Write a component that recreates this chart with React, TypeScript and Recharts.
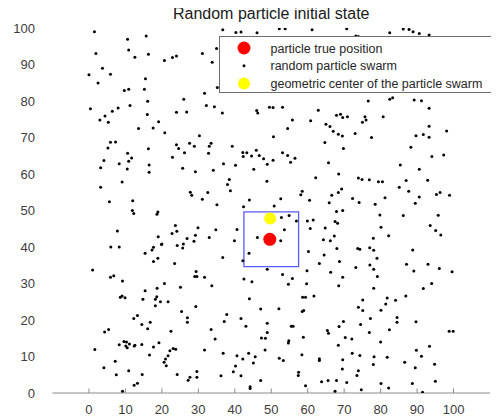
import React from 'react';
import { ScatterChart, Scatter, XAxis, YAxis, ReferenceArea } from 'recharts';

const chartTitle = 'Random particle initial state';
const xTicks = [0, 10, 20, 30, 40, 50, 60, 70, 80, 90, 100];
const yTicks = [0, 10, 20, 30, 40, 50, 60, 70, 80, 90, 100];
const xDomain = [-10, 110];
const yDomain = [0, 100];

const truePosition: [number, number][] = [[49.6, 42.1]];
const swarmCenter: [number, number][] = [[49.7, 47.8]];
const boxX = [42.5, 57.5];
const boxY = [34.6, 49.6];

const legendLabels = [
  'particle true position',
  'random particle swarm',
  'geometric center of the particle swarm',
];

const swarmUpperLeft: [number, number][] = [
  [1.5, 99], [10.6, 96.9], [15.7, 97.8], [1.9, 93], [10.9, 94], [12.6, 92], [16.3, 92.8], [20.7, 91.1],
  [3.7, 89], [0.0, 87.2], [5.9, 87.3], [15.5, 86.1], [2.5, 84.9], [9.7, 82.9], [10.9, 83.2], [15.2, 83.2],
  [16.1, 79.9], [0.4, 77.9], [11.25, 78.8], [8.0, 78.1], [6.4, 77.2], [4.4, 75.9], [3.0, 74.8], [5.3, 74.2],
  [16.0, 76.3], [19.1, 74.3], [13.6, 72.5], [17.6, 72.6], [20.8, 71.3], [5.9, 68.7], [7.3, 68.8],
  [36.7, 99.5], [40.3, 98.8], [41.7, 98.9], [46.1, 98.7], [22.9, 91.9], [24.0, 92.3], [31.1, 93.0],
  [33.8, 90.6], [35.0, 94.4], [35.2, 83.7], [31.7, 82.1], [26.0, 80.5], [24.0, 76.9], [26.8, 77.0],
  [32.2, 78.8], [34.4, 78.4], [36.6, 76.7], [46.0, 77.4], [46.3, 76.7], [49.5, 78.3], [30.3, 70.5], [50.6, 70.2],
];

const swarmUpperRight: [number, number][] = [
  [52.2, 99.8], [53.8, 99.8], [61.2, 99.5], [70.7, 99.8], [73.2, 97.8], [73.9, 97.7], [76.6, 80.0],
  [50.5, 78.2], [53.1, 78.3], [62.9, 77.5], [55.8, 74.8], [60.8, 74.6], [67.9, 76.1], [69.0, 76.4],
  [69.6, 75.5], [70.9, 75.7], [75.7, 75.7], [76.0, 74.8], [75.0, 74.2], [80.7, 75.7], [54.5, 72.5],
  [65.0, 73.6], [66.1, 73.0], [67.0, 71.7], [68.4, 70.9], [69.5, 70.4], [73.0, 71.1], [77.5, 70.0], [64.7, 68.6],
  [82.5, 98.7], [86.2, 99.7], [87.8, 99.6], [88.9, 99.0], [90.6, 98.5], [93.3, 98.1], [82.5, 80.5],
  [83.3, 80.9], [89.2, 80.3], [91.2, 80.1], [93.3, 78.0], [93.3, 73.1], [98.1, 71.8], [89.7, 70.5],
  [91.7, 70.8], [93.3, 70.1],
];

const swarmMiddleLeft: [number, number][] = [
  [5.2, 67.1], [16.3, 66.9], [10.6, 65.7], [11.7, 64.4], [4.1, 63.7], [8.3, 62.8], [10.9, 63.5], [16.5, 62.5],
  [3.2, 61.7], [10.5, 61.4], [16.5, 60.5], [9.1, 57.8], [3.2, 56.4], [5.6, 52.4], [12.0, 52.7], [11.9, 50.0],
  [12.3, 49.2], [18.9, 49.6], [18.65, 49.0], [7.8, 44.4], [19.0, 42.8], [19.9, 40.7], [6.0, 40.0], [8.3, 40.0],
  [17.7, 39.9], [17.3, 39.2], [15.4, 38.3], [18.9, 36.9], [17.7, 36.0],
  [24.0, 68.0], [24.6, 67.0], [27.6, 68.4], [28.9, 67.6], [33.0, 67.6], [33.5, 68.4], [39.3, 67.6],
  [26.2, 65.8], [22.9, 64.6], [32.8, 65.7], [42.2, 65.9], [43.3, 65.8], [42.3, 64.8], [44.6, 64.9],
  [45.9, 66.5], [46.7, 65.1], [47.9, 64.2], [48.9, 62.7], [50.5, 63.8], [36.9, 62.8], [40.2, 62.4],
  [25.7, 61.6], [29.2, 60.6], [34.1, 61.0], [45.2, 61.3], [38.5, 58.5], [38.0, 57.1], [38.8, 55.4],
  [48.8, 58.0], [27.8, 55.0], [28.2, 54.2], [32.6, 54.9], [31.1, 53.1], [35.1, 51.6], [44.0, 52.9],
  [42.4, 51.0], [50.8, 51.2], [23.7, 45.9], [24.1, 44.3], [22.8, 43.7], [29.9, 45.3], [34.8, 44.7],
  [40.6, 44.8], [29.2, 43.2], [26.9, 42.3], [28.8, 41.6], [33.0, 42.6], [39.9, 41.7], [25.9, 40.8],
  [24.2, 40.4], [25.7, 39.7], [20.0, 40.8], [46.2, 42.6], [43.9, 38.3], [36.7, 37.1], [42.2, 36.2], [23.5, 35.5],
];

const swarmMiddleRight: [number, number][] = [
  [69.8, 67.0], [53.1, 65.8], [54.5, 65.1], [56.5, 64.3], [55.3, 63.2], [65.7, 63.1], [62.2, 59.0],
  [68.5, 60.0], [73.9, 58.9], [74.9, 58.5], [76.9, 58.4], [79.4, 57.9], [80.5, 57.9], [58.5, 55.3],
  [58.1, 54.3], [66.6, 54.2], [68.4, 54.9], [69.3, 55.9], [60.5, 52.8], [65.9, 52.1], [72.3, 53.3],
  [74.1, 52.2], [78.5, 51.7], [52.6, 53.2], [67.9, 49.7], [69.6, 50.0], [79.8, 48.8], [52.8, 48.1],
  [54.9, 48.6], [56.9, 47.1], [59.9, 47.1], [61.5, 47.4], [67.5, 47.0], [68.2, 46.5], [53.6, 44.7],
  [60.7, 45.1], [64.8, 45.2], [80.1, 45.4], [52.6, 41.7], [64.3, 42.0], [66.2, 41.7], [67.3, 43.0],
  [78.0, 42.4], [68.0, 39.6], [73.7, 39.6], [74.3, 39.4], [77.0, 39.8], [78.1, 39.1], [60.2, 38.8],
  [64.5, 37.8], [79.0, 36.9], [68.7, 36.0], [63.2, 35.5],
  [88.3, 67.3], [94.05, 64.8], [97.3, 65.2], [85.4, 62.5], [90.6, 61.3], [87.0, 58.2], [92.9, 58.3],
  [85.1, 56.4], [87.7, 55.3], [81.2, 53.5], [90.6, 53.7], [89.5, 52.0], [95.3, 54.4], [96.3, 54.9],
  [98.9, 54.2], [86.2, 48.6], [95.8, 48.7], [93.6, 45.9], [95.1, 44.5], [96.5, 43.3], [82.2, 43.1],
  [88.8, 39.2], [87.1, 35.3], [93.0, 35.3],
];

const swarmLowerLeft: [number, number][] = [
  [1.0, 33.7], [5.9, 31.7], [6.8, 32.1], [9.2, 30.7], [20.7, 30.0], [18.7, 28.7], [15.4, 28.0], [8.6, 26.2],
  [9.1, 26.6], [9.9, 26.1], [14.8, 25.7], [18.6, 26.4], [18.2, 25.7], [19.6, 25.0], [18.2, 23.9], [13.3, 21.2],
  [12.3, 20.4], [14.5, 18.8], [16.8, 19.4], [16.1, 17.6], [4.3, 16.7], [5.4, 17.4], [1.6, 11.9], [8.3, 13.2],
  [9.6, 14.1], [10.3, 14.0], [11.1, 13.4], [10.1, 12.9], [10.5, 12.4], [12.4, 12.9], [12.6, 13.1], [14.5, 13.3],
  [17.7, 12.6], [19.2, 13.8], [16.6, 10.4], [7.2, 8.7], [4.1, 6.9], [20.6, 8.4], [7.5, 5.0], [10.9, 6.1],
  [14.6, 5.1], [13.3, 2.7], [12.4, 2.1], [9.2, 0.5],
  [48.9, 33.9], [29.4, 33.3], [29.0, 31.9], [29.6, 31.9], [31.7, 31.7], [25.1, 29.0], [33.7, 29.4],
  [42.5, 31.2], [44.7, 30.5], [21.7, 25.0], [44.0, 25.8], [29.3, 23.7], [25.4, 22.3], [27.0, 20.6],
  [27.0, 19.4], [37.8, 21.5], [37.1, 19.6], [41.7, 20.4], [43.05, 18.3], [47.1, 23.0], [48.9, 19.1],
  [22.5, 16.9], [33.5, 17.4], [34.6, 14.8], [47.3, 15.1], [48.4, 15.0], [48.9, 16.6], [48.3, 11.8],
  [23.1, 12.2], [23.8, 12.0], [22.2, 11.6], [21.7, 10.2], [21.0, 9.3], [21.2, 7.5], [31.7, 11.8],
  [36.8, 10.9], [40.6, 10.2], [42.2, 9.3], [43.8, 10.9], [45.6, 9.9], [45.1, 8.2], [40.2, 7.4],
  [39.6, 5.8], [41.7, 4.7], [36.2, 4.7], [27.7, 4.3], [27.2, 3.5], [24.2, 5.1], [29.6, 5.9], [29.6, 4.3],
  [47.1, 3.4], [44.2, 1.7], [44.2, 1.2],
];

const swarmLowerRight: [number, number][] = [
  [73.2, 34.4], [77.05, 35.1], [78.1, 33.9], [79.1, 31.9], [53.1, 32.5], [55.8, 31.4], [54.7, 29.8],
  [59.8, 33.5], [66.3, 33.1], [69.6, 31.7], [68.5, 29.4], [59.7, 29.9], [78.1, 28.7], [58.6, 26.2],
  [59.4, 26.2], [61.7, 26.6], [75.1, 25.5], [73.9, 23.5], [75.1, 22.6], [80.1, 22.7], [52.1, 23.1],
  [58.5, 22.3], [58.9, 22.6], [55.5, 18.3], [56.0, 18.3], [69.8, 19.6], [68.6, 18.2], [74.5, 18.8],
  [77.2, 20.4], [76.9, 16.6], [65.4, 17.1], [65.7, 16.4], [70.3, 15.2], [72.1, 14.8], [58.8, 15.3],
  [54.8, 14.3], [54.7, 13.7], [68.4, 13.1], [80.0, 14.0], [72.2, 10.9], [74.3, 10.3], [78.2, 9.9],
  [78.0, 7.8], [69.6, 9.1], [52.2, 9.5], [53.3, 8.9], [58.4, 10.5], [63.2, 9.4], [63.2, 8.9], [69.5, 6.6],
  [73.9, 6.1], [73.5, 4.8], [57.5, 5.7], [57.4, 4.8], [63.8, 3.1], [65.6, 3.4], [67.9, 3.4], [70.7, 2.9],
  [59.4, 2.0], [67.5, 0.5], [74.7, 0.9], [80.1, 2.6],
  [89.1, 33.4], [96.1, 34.1], [99.6, 33.2], [94.0, 30.0], [91.7, 28.6], [86.9, 26.6], [84.1, 25.4],
  [81.8, 26.0], [81.4, 24.4], [84.5, 20.7], [84.5, 19.4], [89.7, 19.5], [82.4, 17.3], [98.8, 16.9],
  [99.9, 16.9], [89.8, 11.7], [93.4, 12.8], [91.2, 10.1], [81.8, 9.8], [86.6, 8.4], [89.5, 6.9],
  [94.8, 7.9], [82.2, 1.4], [88.7, 2.6], [95.0, 3.2], [91.5, 0.2],
];

const toPoints = (arr: [number, number][]) => arr.map(([x, y]) => ({ x, y }));
const swarm = toPoints([
  ...swarmUpperLeft, ...swarmUpperRight, ...swarmMiddleLeft,
  ...swarmMiddleRight, ...swarmLowerLeft, ...swarmLowerRight,
]);

const FONT = '"Liberation Sans", Arial, Helvetica, sans-serif';
const AXIS_COLOR = '#8a8a8a';
const TEXT_COLOR = '#3c3c3c';

const BlackDot = (p: any) => <circle cx={p.cx} cy={p.cy} r={1.5} fill="#000" />;
const RedDot = (p: any) => <circle cx={p.cx} cy={p.cy} r={6.5} fill="#ff0000" />;
const YellowDot = (p: any) => <circle cx={p.cx} cy={p.cy} r={6} fill="#ffff00" />;

const XTick = (p: any) => {
  const { x, y, payload } = p;
  return (
    <g>
      <line x1={x} x2={x} y1={y - 12} y2={y - 16.5} stroke={AXIS_COLOR} strokeWidth={1} />
      <text x={x} y={y} dy="0.71em" textAnchor="middle" fill={TEXT_COLOR} fontSize={13} fontFamily={FONT}>
        {payload.value}
      </text>
    </g>
  );
};

const legendMarkers = [
  { color: '#ff0000', r: 6.5 },
  { color: '#000000', r: 1.5 },
  { color: '#ffff00', r: 6 },
];

const LEG_W = 273;
const LEG_H = 57;

export default function App() {
  return (
    <div style={{ position: 'relative', width: 491, height: 412, fontFamily: FONT }}>
      <ScatterChart width={491} height={412} margin={{ top: 20, right: 9, bottom: 0, left: 0 }}>
        <XAxis
          type="number"
          dataKey="x"
          domain={xDomain}
          ticks={xTicks}
          interval={0}
          allowDataOverflow
          height={27}
          axisLine={{ stroke: AXIS_COLOR }}
          tickLine={false}
          tickSize={0}
          tickMargin={12}
          tick={XTick}
        />
        <YAxis
          type="number"
          dataKey="y"
          domain={yDomain}
          ticks={yTicks}
          interval={0}
          allowDataOverflow
          width={44.5}
          axisLine={false}
          tickLine={false}
          tickSize={0}
          tickMargin={17.5}
          tick={{ fill: TEXT_COLOR, fontSize: 13, fontFamily: FONT }}
        />
        <Scatter data={swarm} shape={BlackDot} isAnimationActive={false} legendType="none" />
        <ReferenceArea
          x1={boxX[0]}
          x2={boxX[1]}
          y1={boxY[0]}
          y2={boxY[1]}
          fill="none"
          fillOpacity={0}
          stroke="#5a5aff"
          strokeWidth={1.3}
          ifOverflow="visible"
        />
        <Scatter data={toPoints(truePosition)} shape={RedDot} isAnimationActive={false} legendType="none" />
        <Scatter data={toPoints(swarmCenter)} shape={YellowDot} isAnimationActive={false} legendType="none" />
      </ScatterChart>
      <svg
        width={LEG_W}
        height={LEG_H}
        style={{ position: 'absolute', left: 211, top: 28, zIndex: 3, overflow: 'visible' }}
      >
        <rect x={0.5} y={0.5} width={LEG_W - 1} height={LEG_H - 1} fill="#fff" stroke="#6e6e6e" strokeWidth={1} />
        {legendLabels.map((label, i) => {
          const cy = 12 + i * 17.7;
          return (
            <g key={label}>
              <circle cx={25} cy={cy} r={legendMarkers[i].r} fill={legendMarkers[i].color} />
              <text x={51.5} y={cy} dy="0.36em" fontSize={12.5} fill="#262626" fontFamily={FONT}>
                {label}
              </text>
            </g>
          );
        })}
      </svg>
      <div
        style={{
          position: 'absolute',
          zIndex: 2,
          top: -3,
          left: 44.5,
          width: 437.5,
          textAlign: 'center',
          fontSize: 16,
          lineHeight: '18px',
          color: '#1a1a1a',
          pointerEvents: 'none',
        }}
      >
        {chartTitle}
      </div>
    </div>
  );
}
